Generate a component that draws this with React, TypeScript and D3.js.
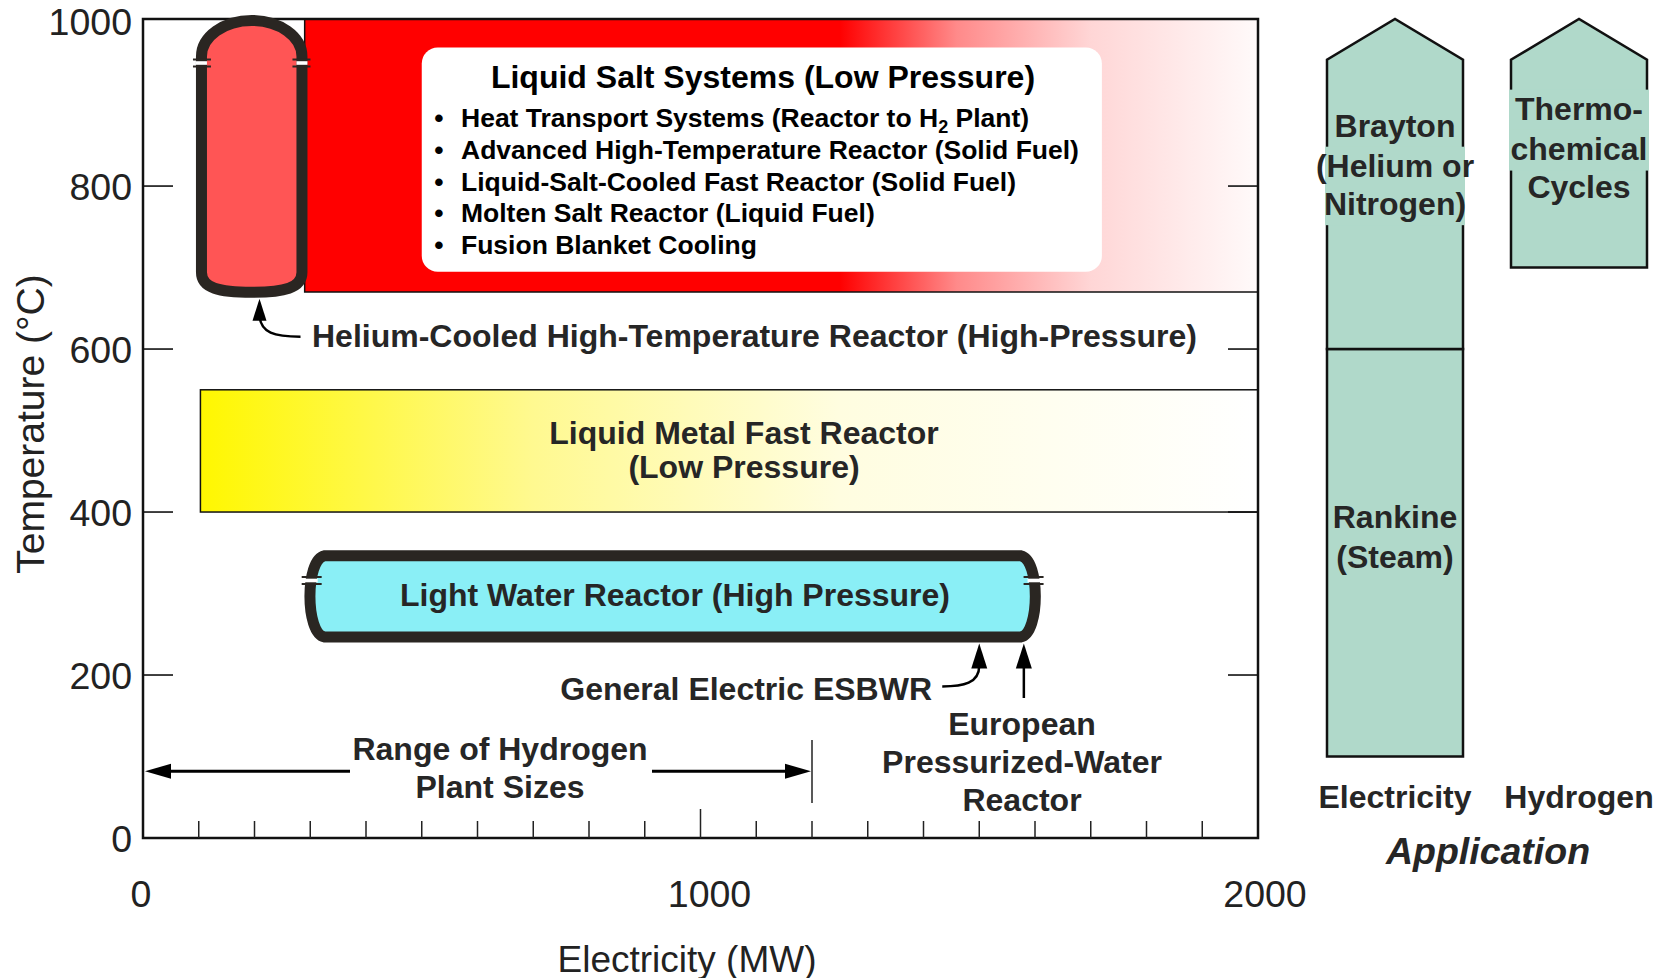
import * as d3 from "d3";

// chart frame (px)
const width = 1664;
const height = 978;
const plot = { left: 143, right: 1258, top: 19, bottom: 838 };

// axes
const xTickLabels = [0, 1000, 2000];
const xTickLabelNudge = [-2, 9, 7];
const yTickLabels = [0, 200, 400, 600, 800, 1000];
const yInnerTicks = [200, 400, 600, 800];

// reactor temperature / size ranges (MW, °C)
const liquidSalt = { x0: 290, x1: 2000, t0: 670, t1: 1005 };
const liquidSaltStopsMW = [290, 1250, 1460, 1700, 2000];
const liquidSaltStopColors = ["#ff0000", "#ff0000", "#ff8a8a", "#ffd6d6", "#fffafa"];
const liquidSaltItems = [
  ["Heat Transport Systems (Reactor to H", "2", " Plant)"],
  ["Advanced High-Temperature Reactor (Solid Fuel)"],
  ["Liquid-Salt-Cooled Fast Reactor (Solid Fuel)"],
  ["Molten Salt Reactor (Liquid Fuel)"],
  ["Fusion Blanket Cooling"],
];
const liquidMetal = { x0: 103, x1: 2000, t0: 400, t1: 550 };
const liquidMetalStopsMW = [103, 700, 1250, 2000];
const liquidMetalStopColors = ["#fff700", "#fff990", "#fffde0", "#ffffff"];

const htrVessel = { x0: 95, x1: 295, t0: 663, t1: 1010, flangeT: 951 };
const lwrVessel = { x0: 290, x1: 1610, t0: 240, t1: 353, flangeT: 316 };

const htrPointer = { mw: 200, t: 663 };
const esbwr = { mw: 1500, t: 240 };
const epr = { mw: 1580, t: 240 };
const hydrogenRange = { mw0: 0, mw1: 1200, t: 82 };

// application panel
const appCategories = ["Electricity", "Hydrogen"];
const appCycles = [
  { cat: "Electricity", t0: 100, t1: 600, peak: false, lines: ["Rankine", "(Steam)"], wide: [false, false], labelT: [394, 346] },
  { cat: "Electricity", t0: 600, t1: 1005, peak: true, lines: ["Brayton", "(Helium or", "Nitrogen)"], wide: [false, true, true], labelT: [874, 825, 779] },
  { cat: "Hydrogen", t0: 700, t1: 1005, peak: true, lines: ["Thermo-", "chemical", "Cycles"], wide: [true, true, false], labelT: [895, 846, 800] },
];
const peakDrop = 50;

const font = "'Liberation Sans', Arial, Helvetica, sans-serif";
const ink = "#262626";
const vesselInk = "#2a2622";
const mint = "#b0d9ca";

const x = d3.scaleLinear().domain([0, 2000]).range([plot.left, plot.right]);
const y = d3.scaleLinear().domain([0, 1005]).range([plot.bottom, plot.top]);
const band = d3
  .scaleBand()
  .domain(appCategories)
  .range([1327, 1647])
  .paddingInner(48 / 184);

function arrowUp(px: number, tip: number, len: number, hw: number) {
  return `M${px},${tip}L${px - hw},${tip + len}L${px + hw},${tip + len}Z`;
}
function arrowSide(px: number, py: number, len: number, hw: number, dir: number) {
  return `M${px},${py}L${px - dir * len},${py - hw}L${px - dir * len},${py + hw}Z`;
}

function Flange({ outer, inner, fy }: { outer: number; inner: number; fy: number }) {
  const dir = inner > outer ? 1 : -1;
  const a = outer - dir * 3;
  const b = inner + dir * 4;
  return (
    <g>
      <rect x={Math.min(outer, inner)} y={fy - 1.8} width={Math.abs(inner - outer)} height={3.6} fill="#fff" />
      <line x1={a} x2={b} y1={fy - 3.5} y2={fy - 3.5} stroke={vesselInk} strokeWidth={2} />
      <line x1={a} x2={b} y1={fy + 3.5} y2={fy + 3.5} stroke={vesselInk} strokeWidth={2} />
    </g>
  );
}

export default function App() {
  const sw = 11;

  // HTR vessel (vertical)
  const hxl = x(htrVessel.x0) + sw / 2;
  const hxr = x(htrVessel.x1) - sw / 2;
  const hyt = y(htrVessel.t1) + sw / 2;
  const hyb = y(htrVessel.t0) - sw / 2;
  const dome = 36;
  const hcx = (hxl + hxr) / 2;
  const htrPath =
    `M${hxl},${hyt + dome}A${(hxr - hxl) / 2},${dome} 0 0 1 ${hxr},${hyt + dome}` +
    `L${hxr},${hyb - 20}C${hxr},${hyb - 4} ${hxr - 18},${hyb} ${hcx},${hyb}` +
    `C${hxl + 18},${hyb} ${hxl},${hyb - 4} ${hxl},${hyb - 20}Z`;

  // LWR vessel (horizontal)
  const lxl = x(lwrVessel.x0) + sw / 2;
  const lxr = x(lwrVessel.x1) - sw / 2;
  const lyt = y(lwrVessel.t1) + sw / 2;
  const lyb = y(lwrVessel.t0) - sw / 2;
  const c = 14;
  const lwrPath =
    `M${lxl + c},${lyt}H${lxr - c}C${lxr + 5},${lyt + 4} ${lxr + 5},${lyb - 4} ${lxr - c},${lyb}` +
    `H${lxl + c}C${lxl - 5},${lyb - 4} ${lxl - 5},${lyt + 4} ${lxl + c},${lyt}Z`;

  const minorTicks = x.ticks(20).filter((v) => v > 0 && v < 2000);

  const htrTipX = x(htrPointer.mw) + 5;
  const htrTipY = y(htrPointer.t) + 1;
  const esX = x(esbwr.mw);
  const esY = y(esbwr.t) + 1;
  const epX = x(epr.mw);
  const rangeY = y(hydrogenRange.t);
  const rangeCx = 500;

  return (
    <div style={{ position: "fixed", left: 0, top: 0, width, height, overflow: "hidden", background: "#fff" }}>
      <svg width={width} height={height} style={{ display: "block" }} fontFamily={font}>
        <defs>
          <linearGradient id="saltGrad" gradientUnits="userSpaceOnUse" x1={x(liquidSalt.x0)} x2={x(liquidSalt.x1)} y1={0} y2={0}>
            {liquidSaltStopsMW.map((v, i) => (
              <stop key={i} offset={(v - liquidSalt.x0) / (liquidSalt.x1 - liquidSalt.x0)} stopColor={liquidSaltStopColors[i]} />
            ))}
          </linearGradient>
          <linearGradient id="metalGrad" gradientUnits="userSpaceOnUse" x1={x(liquidMetal.x0)} x2={x(liquidMetal.x1)} y1={0} y2={0}>
            {liquidMetalStopsMW.map((v, i) => (
              <stop key={i} offset={(v - liquidMetal.x0) / (liquidMetal.x1 - liquidMetal.x0)} stopColor={liquidMetalStopColors[i]} />
            ))}
          </linearGradient>
        </defs>

        {/* liquid salt band */}
        <rect
          x={x(liquidSalt.x0)}
          y={y(liquidSalt.t1)}
          width={x(liquidSalt.x1) - x(liquidSalt.x0)}
          height={y(liquidSalt.t0) - y(liquidSalt.t1)}
          fill="url(#saltGrad)"
          stroke="#111"
          strokeWidth={1.5}
        />
        <rect x={x(500)} y={y(970)} width={x(1720) - x(500)} height={y(695) - y(970)} rx={16} fill="#fff" />
        <text x={763} y={87.5} textAnchor="middle" fontSize={32} fontWeight="bold" fill="#000">
          Liquid Salt Systems (Low Pressure)
        </text>
        {liquidSaltItems.map((parts, i) => {
          const cy = 117.5 + i * 31.8;
          return (
            <g key={i} fontSize={26.5} fontWeight="bold" fill="#000">
              <text x={439} y={cy + 9.5} textAnchor="middle">•</text>
              <text x={461} y={cy + 9.5}>
                {parts.map((p, j) =>
                  j % 2 === 1 ? (
                    <tspan key={j} fontSize={18} dy={6}>{p}</tspan>
                  ) : (
                    <tspan key={j} dy={j > 0 ? -6 : 0}>{p}</tspan>
                  )
                )}
              </text>
            </g>
          );
        })}

        {/* liquid metal band */}
        <rect
          x={x(liquidMetal.x0)}
          y={y(liquidMetal.t1)}
          width={x(liquidMetal.x1) - x(liquidMetal.x0)}
          height={y(liquidMetal.t0) - y(liquidMetal.t1)}
          fill="url(#metalGrad)"
          stroke="#111"
          strokeWidth={1.5}
        />
        <g fontSize={32} fontWeight="bold" fill={ink} textAnchor="middle">
          <text x={744} y={443.5}>Liquid Metal Fast Reactor</text>
          <text x={744} y={477.5}>(Low Pressure)</text>
        </g>

        {/* frame */}
        <rect x={plot.left} y={plot.top} width={plot.right - plot.left} height={plot.bottom - plot.top} fill="none" stroke="#111" strokeWidth={2.5} />
        {yInnerTicks.map((t) => (
          <g key={t} stroke="#111" strokeWidth={1.6}>
            <line x1={plot.left} x2={plot.left + 30} y1={y(t)} y2={y(t)} />
            <line x1={plot.right - 30} x2={plot.right} y1={y(t)} y2={y(t)} />
          </g>
        ))}
        {minorTicks.map((v) => (
          <line key={v} x1={x(v)} x2={x(v)} y1={plot.bottom} y2={plot.bottom - (v === 1000 ? 29 : 17)} stroke="#222" strokeWidth={1.5} />
        ))}

        {/* HTR vessel */}
        <path d={htrPath} fill="#ff5555" stroke={vesselInk} strokeWidth={sw} />
        <Flange outer={hxl - sw / 2} inner={hxl + sw / 2} fy={y(htrVessel.flangeT)} />
        <Flange outer={hxr + sw / 2} inner={hxr - sw / 2} fy={y(htrVessel.flangeT)} />
        <path d={arrowUp(htrTipX, htrTipY, 22, 7)} fill="#000" />
        <path
          d={`M${htrTipX},${htrTipY + 18}C${htrTipX + 2},${htrTipY + 34} ${htrTipX + 14},${htrTipY + 38} ${htrTipX + 41},${htrTipY + 38}`}
          fill="none"
          stroke="#000"
          strokeWidth={2.5}
        />
        <text x={312} y={346.5} fontSize={32} fontWeight="bold" fill={ink}>
          Helium-Cooled High-Temperature Reactor (High-Pressure)
        </text>

        {/* LWR vessel */}
        <path d={lwrPath} fill="#8aeff6" stroke={vesselInk} strokeWidth={sw} />
        <Flange outer={lxl - sw / 2} inner={lxl + sw / 2 + 2} fy={y(lwrVessel.flangeT)} />
        <Flange outer={lxr + sw / 2} inner={lxr - sw / 2 - 2} fy={y(lwrVessel.flangeT)} />
        <text x={675} y={605.5} textAnchor="middle" fontSize={32} fontWeight="bold" fill={ink}>
          Light Water Reactor (High Pressure)
        </text>

        {/* ESBWR / EPR pointers */}
        <path d={arrowUp(esX, esY, 25, 8)} fill="#000" />
        <path d={`M${esX},${esY + 22}C${esX},${esY + 40} ${esX - 16},${esY + 43} ${esX - 37},${esY + 43}`} fill="none" stroke="#000" strokeWidth={2.5} />
        <text x={932} y={699.5} textAnchor="end" fontSize={32} fontWeight="bold" fill={ink}>
          General Electric ESBWR
        </text>
        <path d={arrowUp(epX, esY, 25, 8)} fill="#000" />
        <line x1={epX} x2={epX} y1={esY + 20} y2={698} stroke="#000" strokeWidth={2.5} />
        <g fontSize={32} fontWeight="bold" fill={ink} textAnchor="middle">
          <text x={1022} y={734.5}>European</text>
          <text x={1022} y={772.5}>Pressurized-Water</text>
          <text x={1022} y={810.5}>Reactor</text>
        </g>

        {/* hydrogen plant size range */}
        <path d={arrowSide(x(hydrogenRange.mw0) + 2, rangeY, 26, 7.5, -1)} fill="#000" />
        <line x1={x(hydrogenRange.mw0) + 20} x2={rangeCx - 150} y1={rangeY} y2={rangeY} stroke="#000" strokeWidth={3} />
        <path d={arrowSide(x(hydrogenRange.mw1) - 1, rangeY, 26, 7.5, 1)} fill="#000" />
        <line x1={rangeCx + 152} x2={x(hydrogenRange.mw1) - 20} y1={rangeY} y2={rangeY} stroke="#000" strokeWidth={3} />
        <line x1={x(hydrogenRange.mw1)} x2={x(hydrogenRange.mw1)} y1={740} y2={803} stroke="#222" strokeWidth={1.5} />
        <g fontSize={32} fontWeight="bold" fill={ink} textAnchor="middle">
          <text x={rangeCx} y={759.5}>Range of Hydrogen</text>
          <text x={rangeCx} y={797.5}>Plant Sizes</text>
        </g>

        {/* axis labels */}
        <g fontSize={37.5} fill="#222">
          {yTickLabels.map((t) => (
            <text key={t} x={132} y={y(t) + (t === 1000 ? 11.5 : 13.5)} textAnchor="end">{t}</text>
          ))}
          {xTickLabels.map((v, i) => (
            <text key={v} x={x(v) + xTickLabelNudge[i]} y={906.5} textAnchor="middle">{v}</text>
          ))}
          <text x={687} y={971.5} textAnchor="middle" fontSize={37}>Electricity (MW)</text>
          <text transform={`translate(44,424) rotate(-90)`} textAnchor="middle" fontSize={39}>Temperature (°C)</text>
        </g>

        {/* application panel */}
        {appCycles.map((cy, i) => {
          const x0 = band(cy.cat)!;
          const x1 = x0 + band.bandwidth();
          const d = cy.peak
            ? `M${x0},${y(cy.t0)}L${x0},${y(cy.t1 - peakDrop)}L${(x0 + x1) / 2},${y(cy.t1)}L${x1},${y(cy.t1 - peakDrop)}L${x1},${y(cy.t0)}Z`
            : `M${x0},${y(cy.t0)}L${x0},${y(cy.t1)}L${x1},${y(cy.t1)}L${x1},${y(cy.t0)}Z`;
          return <path key={i} d={d} fill={mint} stroke="#111" strokeWidth={2.5} />;
        })}
        {appCycles.map((cy, i) => {
          const x0 = band(cy.cat)!;
          const cx = x0 + band.bandwidth() / 2;
          return (
            <g key={i}>
              {cy.lines.map((_, j) =>
                cy.wide[j] ? (
                  <rect key={j} x={x0 - 2} y={y(cy.labelT[j]) - 19} width={band.bandwidth() + 4} height={41} fill={mint} />
                ) : null
              )}
              {cy.lines.map((ln, j) => (
                <text key={j} x={cx} y={y(cy.labelT[j]) + 11.5} textAnchor="middle" fontSize={32} fontWeight="bold" fill={ink}>
                  {ln}
                </text>
              ))}
            </g>
          );
        })}
        {appCategories.map((cat) => (
          <text key={cat} x={band(cat)! + band.bandwidth() / 2} y={808} textAnchor="middle" fontSize={32} fontWeight="bold" fill={ink}>
            {cat}
          </text>
        ))}
        <text x={1488} y={864} textAnchor="middle" fontSize={37.5} fontWeight="bold" fontStyle="italic" fill={ink}>
          Application
        </text>
      </svg>
    </div>
  );
}
